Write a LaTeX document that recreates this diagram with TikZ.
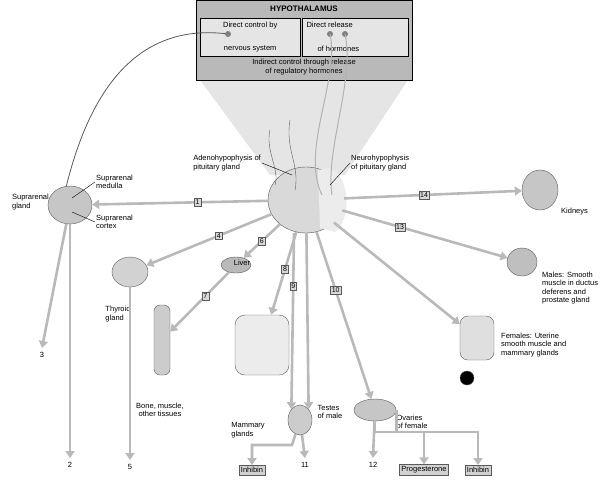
\documentclass[tikz,border=0pt]{standalone}
\usepackage{fontspec}
\setmainfont{Liberation Sans}
\usetikzlibrary{arrows.meta,positioning,shapes.geometric}
\begin{document}
\begin{tikzpicture}[x=1pt,y=-1pt,font=\fontsize{7.5}{8.5}\selectfont,
    hormone/.style={draw=gray!55,line width=2.6pt,-{Triangle[length=7pt,width=9pt]}},
    numbox/.style={draw=gray!70!black,line width=0.4pt,fill=gray!30,text=black,inner sep=1.5pt,font=\fontsize{7}{7}\selectfont},
    outbox/.style={draw=gray!70!black,line width=0.4pt,fill=gray!35,text=black,inner sep=2pt},
    organ/.style={draw=gray!70!black,fill=gray!45},
    lbl/.style={align=left,inner sep=1pt}]
\useasboundingbox (0,0) rectangle (604,480);

% funnel from hypothalamus
\fill[gray!20] (200,80) -- (408,80) -- (345,175) -- (270,175) -- cycle;

% hypothalamus box
\node[draw,fill=gray!55,minimum width=216pt,minimum height=80pt,anchor=north west] (hyp) at (196,0) {};
\node[font=\bfseries\fontsize{8}{9}\selectfont] (hyptitle) at (304,9) {HYPOTHALAMUS};
\node[draw,fill=gray!20,minimum width=100pt,minimum height=38pt,anchor=north west,label={[anchor=north,yshift=-1pt]north:Direct control by},label={[anchor=south,yshift=1pt]south:nervous system}] (nerv) at (200,18) {};
\node[draw,fill=gray!20,minimum width=106pt,minimum height=38pt,anchor=north west,label={[anchor=north west,xshift=1pt,yshift=-1pt]north west:Direct release},label={[anchor=south west,xshift=12pt,yshift=1pt]south west:of hormones}] (rel) at (302,18) {};
\node[align=center] (indir) at (304,67) {Indirect control through release\\of regulatory hormones};

% pituitary
\node[organ,fill=gray!30,ellipse,minimum width=76pt,minimum height=66pt] (pit) at (306,200) {};
\fill[gray!15] (330,168) .. controls (350,175) and (352,220) .. (335,232) -- (320,228) -- (318,170) -- cycle;
\draw[gray!70!black] (290,120) .. controls (285,150) and (300,165) .. (295,190);
\draw[gray!70!black] (270,130) .. controls (265,150) and (280,170) .. (275,185);

% nerve fibres
\coordinate (n1) at (228,34);
\coordinate (n2) at (330,34);
\coordinate (n3) at (345,34);
\draw[gray!70!black,line width=0.8pt] (n1) .. controls (120,20) and (80,120) .. (62,205);
\fill[gray] (n1) circle (3pt) (n2) circle (3pt) (n3) circle (3pt);
\draw[gray!60,line width=1pt] (n2) .. controls (340,80) and (300,150) .. (322,195);
\draw[gray!60,line width=1pt] (n3) .. controls (355,80) and (325,150) .. (332,195);

% organs
\node[organ,ellipse,minimum width=44pt,minimum height=38pt] (supra) at (70,205) {};
\node[organ,fill=gray!35,ellipse,minimum width=36pt,minimum height=30pt] (thyroid) at (130,272) {};
\node[organ,fill=gray!55,ellipse,minimum width=30pt,minimum height=16pt] (liver) at (236,265) {};
\node[organ,fill=gray!40,rounded corners=6pt,minimum width=16pt,minimum height=70pt] (bone) at (162,340) {};
\node[organ,fill=gray!15,minimum width=54pt,minimum height=60pt,rounded corners=10pt] (breast) at (262,345) {};
\node[organ,fill=gray!40,ellipse,minimum width=24pt,minimum height=30pt] (testes) at (300,420) {};
\node[organ,fill=gray!45,ellipse,minimum width=42pt,minimum height=22pt] (ovary) at (375,410) {};
\node[organ,fill=gray!45,ellipse,minimum width=36pt,minimum height=40pt] (kidney) at (540,190) {};
\node[organ,fill=gray!50,ellipse,minimum width=30pt,minimum height=28pt] (male) at (522,262) {};
\node[organ,fill=gray!25,minimum width=34pt,minimum height=44pt,rounded corners=8pt] (female) at (477,338) {};
\node[organ,fill=black,circle,minimum size=14pt] (cell) at (467,378) {};

% labels
\node[lbl,anchor=east] (adeno) at (262,163) {Adenohypophysis of\\pituitary gland};
\node[lbl,anchor=west] (neuro) at (350,163) {Neurohypophysis\\of pituitary gland};
\draw (adeno.east) -- (292,175);
\draw (neuro.west) -- (330,185);
\node[lbl,anchor=west] (smed) at (95,182) {Suprarenal\\medulla};
\node[lbl,anchor=west] (scor) at (95,222) {Suprarenal\\cortex};
\node[lbl,anchor=east] (sgl) at (50,202) {Suprarenal\\gland};
\draw (smed.west) -- (72,198);
\draw (scor.west) -- (72,212);
\node[lbl] (thyl) at (118,314) {Thyroid\\gland};
\node[lbl,anchor=north] at (242,259) {Liver};
\node[lbl,align=center] (bonel) at (160,410) {Bone, muscle,\\other tissues};
\node[lbl] (mamml) at (248,430) {Mammary\\glands};
\node[lbl] (testl) at (330,412) {Testes\\of male};
\node[lbl] (ovl) at (412,422) {Ovaries\\of female};
\node[lbl,anchor=west] (kidl) at (560,212) {Kidneys};
\node[lbl,anchor=west] (malel) at (541,288) {Males: Smooth\\muscle in ductus\\deferens and\\prostate gland};
\node[lbl,anchor=west] (fel) at (500,345) {Females: Uterine\\smooth muscle and\\mammary glands};

% hormone arrows
\coordinate (e3) at (42,348);
\coordinate (e2) at (70,458);
\coordinate (e5) at (130,460);
\coordinate (e11) at (305,458);
\coordinate (e12) at (373,458);
\draw[hormone] (pit) -- (supra) node[numbox,pos=0.4] {1};
\draw[hormone] (pit) -- (thyroid) node[numbox,pos=0.42] {4};
\draw[hormone] (pit) -- (liver) node[numbox,pos=0.5] {6};
\draw[hormone] (liver) -- (bone) node[numbox,pos=0.4] {7};
\draw[hormone] (pit) -- (breast) node[numbox,pos=0.45] {8};
\draw[hormone] (pit.south) ++(-12,0) -- (testes.north west) node[numbox,pos=0.3] {9};
\draw[hormone] (pit) -- (testes.north east);
\draw[hormone] (pit) -- (ovary) node[numbox,pos=0.35] {10};
\draw[hormone] (pit) -- (male) node[numbox,pos=0.35] {13};
\draw[hormone] (pit) -- (female);
\draw[hormone] (pit) -- (kidney) node[numbox,pos=0.45] {14};
\draw[hormone] (supra) -- (e3) node[anchor=north,text=black] {3};
\draw[hormone] (supra) -- (e2) node[anchor=north,text=black] {2};
\draw[hormone] (thyroid) -- (e5) node[anchor=north,text=black] {5};
\draw[hormone] (testes) -- (e11) node[anchor=north,text=black] {11};
\draw[hormone] (ovary) -- (e12) node[anchor=north,text=black] {12};

% outputs
\node[outbox] (inh1) at (252,470) {Inhibin};
\node[outbox] (prog) at (424,470) {Progesterone};
\node[outbox] (inh2) at (478,470) {Inhibin};
\draw[hormone] (testes) -- ++(-8,25) -| (inh1);
\draw[hormone] (ovary) -- ++(0,22) -| (prog);
\draw[hormone] (ovary.east) -- ++(0,22) -| (inh2);
\end{tikzpicture}
\end{document}
